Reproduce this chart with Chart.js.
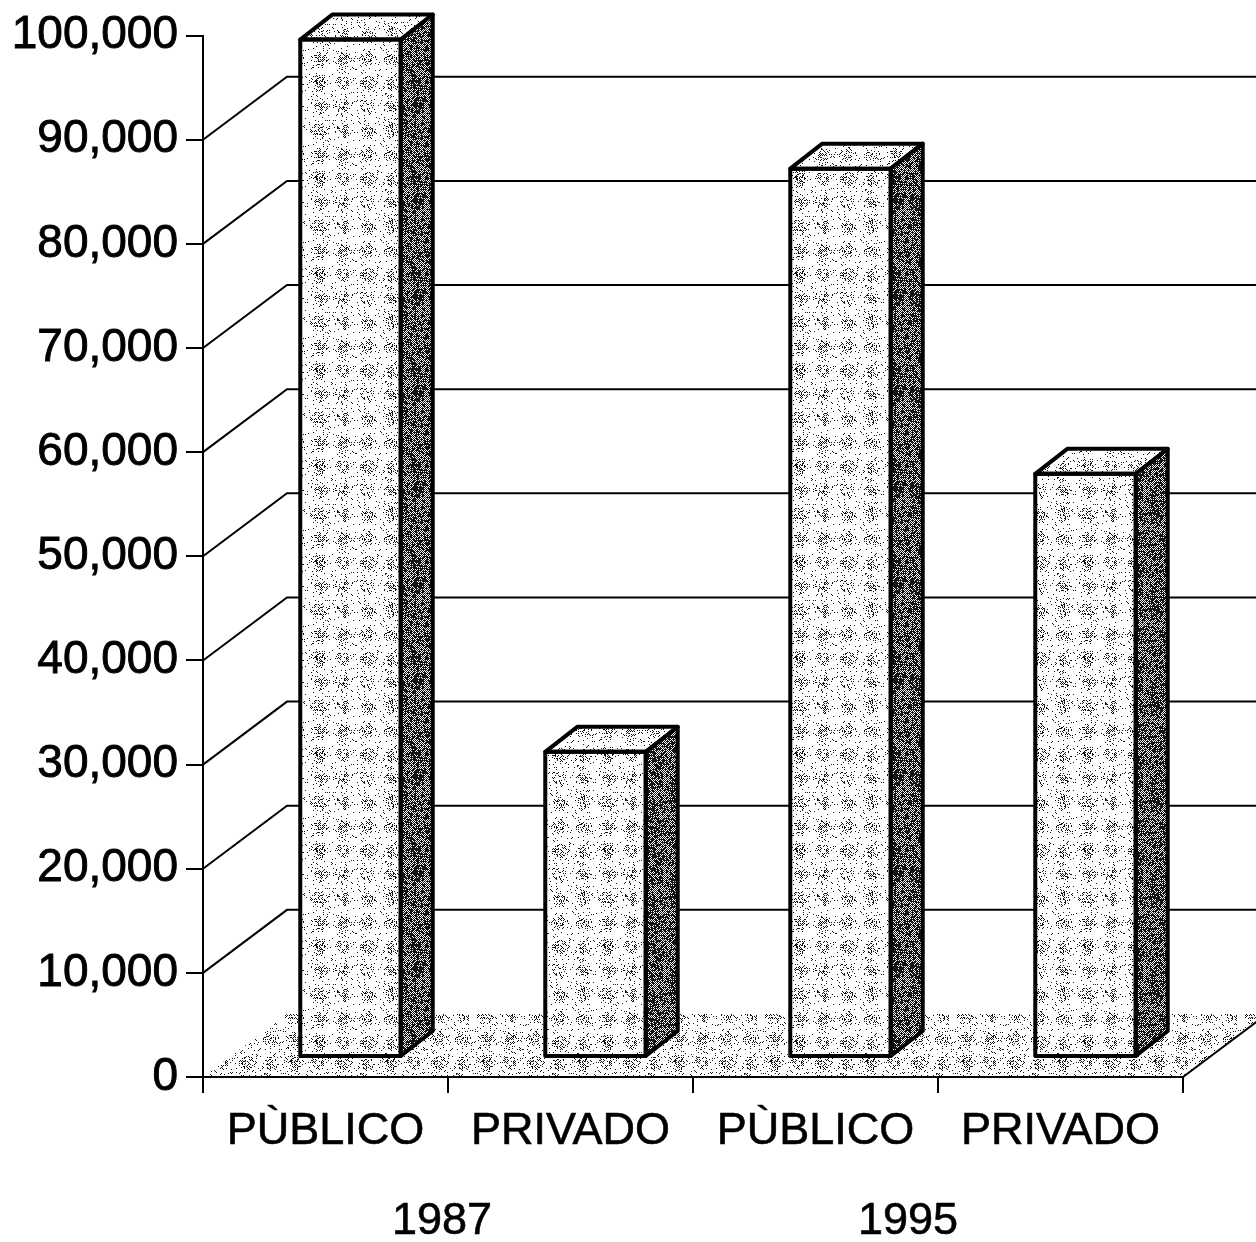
<!DOCTYPE html>
<html lang="es">
<head>
<meta charset="UTF-8">
<title>Público y privado 1987 - 1995</title>
<script src="https://cdn.jsdelivr.net/npm/chart.js"></script>
<style>
  body { margin: 0; background: #fff; }
  .chart-box { width: 1256px; height: 1242px; position: relative; }
</style>
</head>
<body>
<div class="chart-box"><canvas id="grafico"></canvas></div>
<script>
// datos
const categorias = ['PÙBLICO', 'PRIVADO', 'PÙBLICO', 'PRIVADO'];
const valores = [97700, 29300, 85300, 56000];
const anios = ['1987', '1995'];
const ejeY = { min: 0, max: 100000, paso: 10000 };

const FUENTE = "'Liberation Sans', Arial, sans-serif";
// profundidad del "3D": pared del fondo y desplazamiento de las barras
const FONDO = { dx: 84, dy: -63 };
const BARRA = { dx: 25, dy: -20, px: 32, py: -25 };

// trama punteada tipo escaneo (solo textura)
function crearTrama(densidad, manchas, extra) {
  const n = 96;
  const c = document.createElement('canvas');
  c.width = c.height = n;
  const g = c.getContext('2d');
  const img = g.createImageData(n, n);
  for (let y = 0; y < n; y++) {
    for (let x = 0; x < n; x++) {
      let h = Math.imul(x, 374761393) + Math.imul(y, 668265263);
      h = Math.imul(h ^ (h >>> 13), 1274126177);
      h = ((h ^ (h >>> 16)) >>> 0) / 4294967296;
      const blot = manchas * Math.max(0, Math.sin(2 * Math.PI * (x + y) / 48) * Math.cos(2 * Math.PI * (x - y) / 48));
      const checker = (x + y) % 2 === 0;
      const on = checker ? h < densidad * 2 + blot : h < extra + blot * 0.4;
      const i = (y * n + x) * 4;
      const v = on ? 20 : 255;
      img.data[i] = img.data[i + 1] = img.data[i + 2] = v;
      img.data[i + 3] = 255;
    }
  }
  g.putImageData(img, 0, 0);
  return g.createPattern(c, 'repeat');
}

const ctx = document.getElementById('grafico').getContext('2d');
const tramaFrente = crearTrama(0.05, 0.45, 0.01);
const tramaArriba = crearTrama(0.06, 0.3, 0.01);
const tramaLado = crearTrama(0.5, 0.3, 0.38);
const tramaPiso = crearTrama(0.07, 0.4, 0.01);

const efecto3d = {
  id: 'efecto3d',
  beforeDraw(chart) {
    const { ctx, scales: { x, y } } = chart;
    const xL = x.left, xR = x.right, y0 = y.getPixelForValue(0);
    ctx.save();
    // piso
    ctx.beginPath();
    ctx.moveTo(xL, y0);
    ctx.lineTo(xR, y0);
    ctx.lineTo(xR + FONDO.dx, y0 + FONDO.dy);
    ctx.lineTo(xL + FONDO.dx, y0 + FONDO.dy);
    ctx.closePath();
    ctx.fillStyle = tramaPiso;
    ctx.fill();
    ctx.strokeStyle = '#000';
    ctx.lineWidth = 2;
    ctx.beginPath();
    ctx.moveTo(xR, y0);
    ctx.lineTo(xR + FONDO.dx, y0 + FONDO.dy);
    ctx.stroke();
    // lineas de la pared lateral y del fondo
    ctx.lineWidth = 2;
    for (let v = ejeY.min + ejeY.paso; v < ejeY.max; v += ejeY.paso) {
      const py = y.getPixelForValue(v);
      ctx.beginPath();
      ctx.moveTo(xL, py);
      ctx.lineTo(xL + FONDO.dx, py + FONDO.dy);
      ctx.lineTo(chart.width, py + FONDO.dy);
      ctx.stroke();
    }
    ctx.restore();
  },
  beforeDatasetsDraw(chart) {
    chart.ctx.save();
    chart.ctx.translate(BARRA.dx, BARRA.dy);
  },
  afterDatasetsDraw(chart) {
    const ctx = chart.ctx;
    ctx.lineWidth = 4;
    ctx.strokeStyle = '#000';
    ctx.lineJoin = 'round';
    chart.getDatasetMeta(0).data.forEach(bar => {
      const l = bar.x - bar.width / 2, r = bar.x + bar.width / 2;
      const t = bar.y, b = bar.base;
      // cara superior
      ctx.beginPath();
      ctx.moveTo(l, t);
      ctx.lineTo(l + BARRA.px, t + BARRA.py);
      ctx.lineTo(r + BARRA.px, t + BARRA.py);
      ctx.lineTo(r, t);
      ctx.closePath();
      ctx.fillStyle = tramaArriba;
      ctx.fill();
      ctx.stroke();
      // cara lateral
      ctx.beginPath();
      ctx.moveTo(r, t);
      ctx.lineTo(r + BARRA.px, t + BARRA.py);
      ctx.lineTo(r + BARRA.px, b + BARRA.py);
      ctx.lineTo(r, b);
      ctx.closePath();
      ctx.fillStyle = tramaLado;
      ctx.fill();
      ctx.stroke();
      ctx.strokeRect(l, t, r - l, b - t);
    });
    ctx.restore();
  },
  afterDraw(chart) {
    const { ctx, scales: { x } } = chart;
    const ajustes = [-6, -30];
    ctx.save();
    ctx.fillStyle = '#000';
    ctx.strokeStyle = '#000';
    ctx.lineWidth = 0.6;
    ctx.font = '45px ' + FUENTE;
    ctx.textAlign = 'center';
    ctx.textBaseline = 'middle';
    anios.forEach((a, i) => {
      const cx = (x.getPixelForValue(i * 2) + x.getPixelForValue(i * 2 + 1)) / 2 + ajustes[i];
      ctx.fillText(a, cx, 1222);
      ctx.strokeText(a, cx, 1222);
    });
    ctx.restore();
  }
};

new Chart(ctx, {
  type: 'bar',
  data: {
    labels: categorias,
    datasets: [{
      data: valores,
      backgroundColor: tramaFrente,
      borderColor: '#000',
      borderWidth: 0,
      barPercentage: 0.41,
      categoryPercentage: 1
    }]
  },
  options: {
    responsive: true,
    maintainAspectRatio: false,
    animation: false,
    layout: { padding: { top: 33, right: 73, left: 0, bottom: 0 } },
    plugins: { legend: { display: false }, tooltip: { enabled: false } },
    scales: {
      x: {
        grid: { offset: true, drawOnChartArea: false, tickLength: 16, color: '#000', lineWidth: 2 },
        border: { color: '#000', width: 2 },
        ticks: {
          color: '#000',
          font: { family: FUENTE, size: 45 },
          padding: 12,
          maxRotation: 0,
          textStrokeColor: '#000',
          textStrokeWidth: 0.6
        },
        afterFit: s => { s.height = 165; }
      },
      y: {
        min: ejeY.min,
        max: ejeY.max,
        grid: { drawOnChartArea: false, tickLength: 17, color: '#000', lineWidth: 2 },
        border: { color: '#000', width: 2 },
        ticks: {
          stepSize: ejeY.paso,
          color: '#000',
          font: { family: FUENTE, size: 46 },
          padding: 8,
          textStrokeColor: '#000',
          textStrokeWidth: 0.9,
          callback: v => v.toLocaleString('en-US')
        },
        afterFit: s => { s.width = 203; }
      }
    }
  },
  plugins: [efecto3d]
});
</script>
</body>
</html>
